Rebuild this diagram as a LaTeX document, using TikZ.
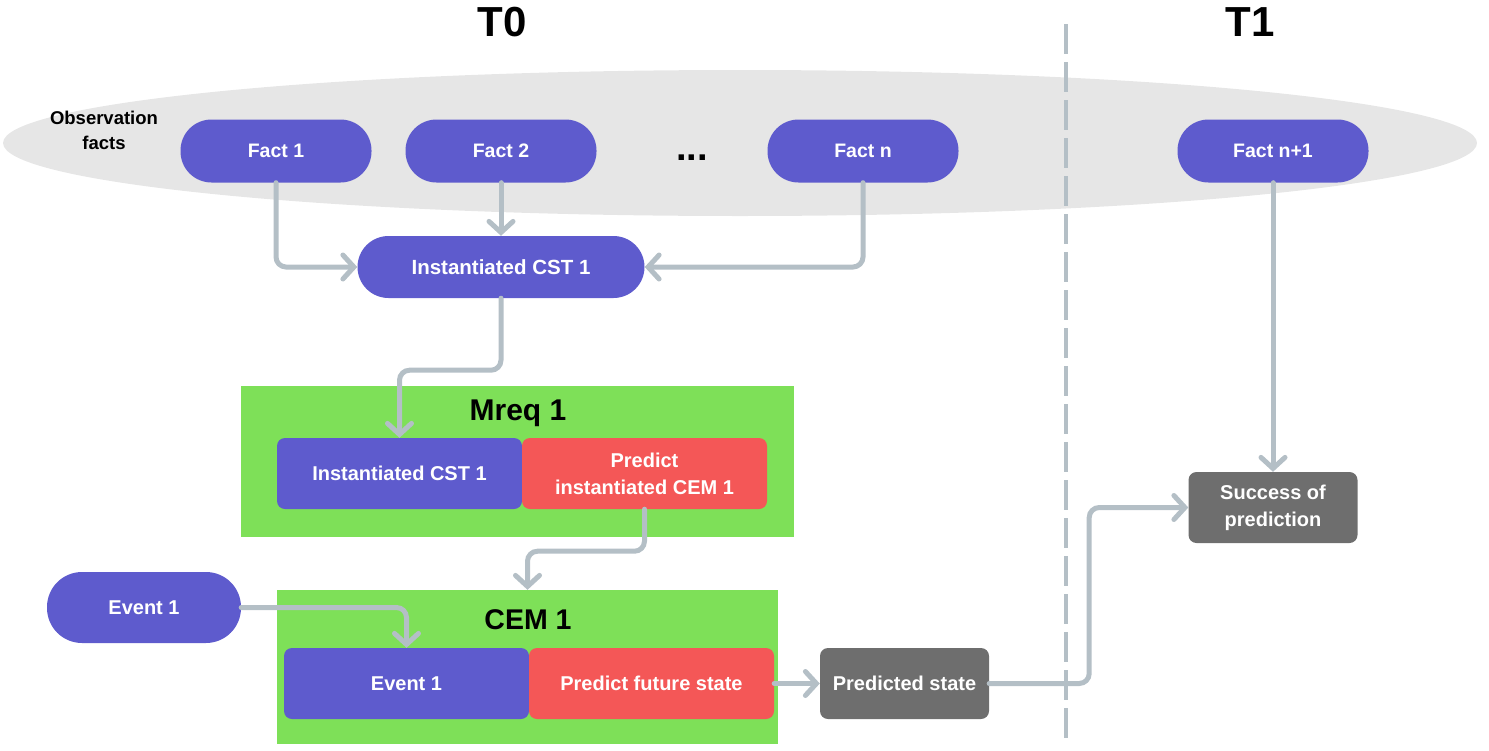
\documentclass[tikz,border=0pt]{standalone}
\usepackage{fontspec}
\setmainfont{Liberation Sans}
\usetikzlibrary{arrows.meta}
\definecolor{cblue}{HTML}{5E5BCD}
\definecolor{cred}{HTML}{F45757}
\definecolor{cgreen}{HTML}{7EE058}
\definecolor{cgray}{HTML}{6E6E6E}
\definecolor{cell}{HTML}{E6E6E6}
\definecolor{cline}{HTML}{B4BFC6}
\newcommand{\fs}[2]{\fontsize{#1}{#2}\selectfont\bfseries}
\tikzset{
  pill/.style={fill=cblue, text=white, rounded corners=31pt, inner sep=0pt, font=\fs{19.5}{24}},
  inbox/.style={rounded corners=8pt, inner sep=0pt, text=white, minimum height=71pt, font=\fs{20}{27}, align=center},
  gbox/.style={fill=cgreen, inner sep=0pt},
  conn/.style={draw=cline, line width=5pt, rounded corners=10pt, line cap=round,
    -{Straight Barb[length=11pt,width=24pt,line width=5pt,line cap=round]}},
  title/.style={font=\fs{42}{46}, text=black},
}
\begin{document}
\begin{tikzpicture}[x=1pt,y=-1pt]
\useasboundingbox (0,0) rectangle (1489,750);
% background ellipse
\fill[cell] (740,143) ellipse [x radius=737pt, y radius=73pt];
% separator
\draw[cline, line width=4.5pt, dash pattern=on 30pt off 8pt] (1066,24) -- (1066,742);
% titles
\node[title] (t0) at (502,22) {T0};
\node[title] (t1) at (1250,22) {T1};
\node[font=\fs{18.5}{25}, align=center] (obs) at (104,130) {Observation\\facts};
% facts
\node[pill, minimum width=191pt, minimum height=63pt] (f1) at (276,151) {Fact 1};
\node[pill, minimum width=191pt, minimum height=63pt] (f2) at (501,151) {Fact 2};
\node[font=\fs{38}{38}, anchor=base, inner sep=0pt] (dots) at (692,160) {...};
\node[pill, minimum width=191pt, minimum height=63pt] (fn) at (863,151) {Fact n};
\node[pill, minimum width=191pt, minimum height=63pt] (fn1) at (1273,151) {Fact n+1};
\node[pill, minimum width=287pt, minimum height=62pt, font=\fs{20.5}{24}] (cst) at (501,267) {Instantiated CST 1};
% Mreq box
\node[gbox, minimum width=553pt, minimum height=151pt] (mreq) at (517.5,461.5) {};
\node[font=\fs{30}{32}] (mreqt) at (518,413) {Mreq 1};
\node[inbox, fill=cblue, minimum width=245pt] (mcst) at (399.5,473.5) {Instantiated CST 1};
\node[inbox, fill=cred, minimum width=245pt] (mpred) at (644.5,473.5) {Predict\\instantiated CEM 1};
% CEM box
\node[gbox, minimum width=501pt, minimum height=154pt] (cem) at (527.5,667) {};
\node[font=\fs{28.5}{30}] (cemt) at (528,620) {CEM 1};
\node[inbox, fill=cblue, minimum width=245pt] (cevent) at (406.5,683.5) {Event 1};
\node[inbox, fill=cred, minimum width=245pt] (cpred) at (651.5,683.5) {Predict future state};
% event
\node[pill, minimum width=194pt, minimum height=71pt, rounded corners=35pt, font=\fs{20}{24}] (ev) at (144,607.5) {Event 1};
% gray boxes
\node[inbox, fill=cgray, minimum width=169pt] (pstate) at (904.5,683.5) {Predicted state};
\node[inbox, fill=cgray, minimum width=169pt] (succ) at (1273,507.5) {Success of\\prediction};
% connectors
\draw[conn] (f1.south) |- (cst.west);
\draw[conn] (f2.south) -- (cst.north);
\draw[conn] (fn.south) |- (cst.east);
\draw[conn] (cst.south) -- ++(0,72) -| (mcst.north);
\draw[conn] (mpred.south) -- ++(0,42) -| (cem.north);
\draw[conn] (ev.east) -| (cevent.north);
\draw[conn] (cpred.east) -- (pstate.west);
\draw[conn] (pstate.east) -- ++(100,0) |- (succ.west);
\draw[conn] (fn1.south) -- (succ.north);
\end{tikzpicture}
\end{document}
